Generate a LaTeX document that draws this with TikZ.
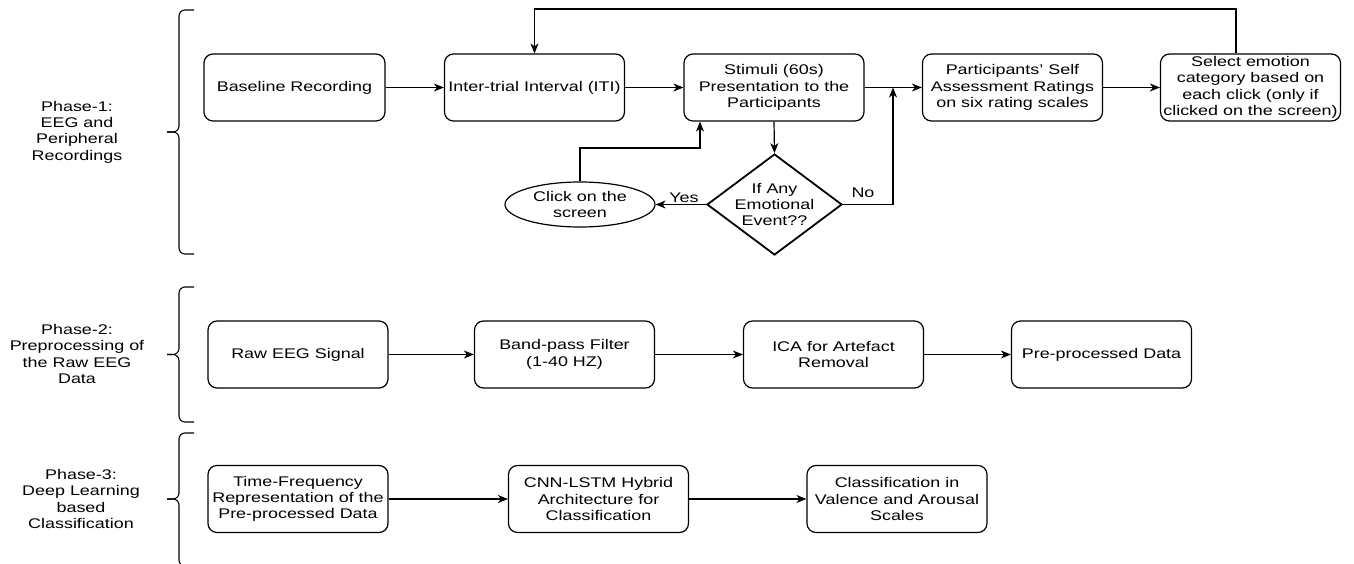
\documentclass[tikz,border=0pt]{standalone}
\usepackage{fontspec}
\setmainfont{Liberation Sans}[FakeStretch=1.28]
\usetikzlibrary{arrows.meta,shapes.geometric}
\begin{document}
\begin{tikzpicture}[x=1pt,y=-1pt,
  font=\fontsize{14}{16.3}\selectfont,
  box/.style={draw, line width=1.2pt, rounded corners=9pt, minimum width=180pt, minimum height=67pt, align=center, inner sep=0pt},
  conn/.style={line width=1.2pt, -{Stealth[length=10pt,width=8pt,inset=3pt]}},
  brc/.style={line width=1.1pt, rounded corners=6pt},
  lbl/.style={align=center, inner sep=0pt}]
\useasboundingbox (0,0) rectangle (1354,564);
\fill[white] (0,0) rectangle (1354,564);

% Phase labels
\node[lbl] (p1) at (77,132) {Phase-1:\\EEG and\\Peripheral\\Recordings};
\node[lbl] (p2) at (77,354) {Phase-2:\\Preprocessing of\\the Raw EEG\\Data};
\node[lbl] (p3) at (81,499) {Phase-3:\\Deep Learning\\based\\Classification};

% Braces
\draw[brc] (194,10) -- (179,10) -- (179,132) -- (167,132);
\draw[brc] (167,132) -- (179,132) -- (179,254) -- (194,254);
\draw[brc] (194,287) -- (179,287) -- (179,354.5) -- (167,354.5);
\draw[brc] (167,354.5) -- (179,354.5) -- (179,422) -- (194,422);
\draw[brc] (194,433) -- (179,433) -- (179,499) -- (167,499);
\draw[brc] (167,499) -- (179,499) -- (179,566) -- (194,566);

% Phase 1
\node[box, minimum width=181pt] (base) at (294.5,87.5) {Baseline Recording};
\node[box] (iti) at (534.5,87.5) {Inter-trial Interval (ITI)};
\node[box] (stim) at (774,87.5) {Stimuli (60s)\\Presentation to the\\Participants};
\node[box] (part) at (1012.5,87.5) {Participants' Self\\Assessment Ratings\\on six rating scales};
\node[box] (sel) at (1250.5,87.5) {Select emotion\\category based on\\each click (only if\\clicked on the screen)};
\node[diamond, draw, line width=1.8pt, minimum width=135pt, minimum height=101pt, inner sep=0pt] (dec) at (774.5,204.5) {};
\node[lbl] (dect) at (dec) {If Any\\Emotional\\Event??};
\node[ellipse, draw, line width=1.2pt, minimum width=150pt, minimum height=45pt, inner sep=0pt] (click) at (580,204.5) {};
\node[lbl] (clickt) at (click) {Click on the\\screen};

\draw[conn] (base.east) -- (iti.west);
\draw[conn] (iti.east) -- (stim.west);
\draw[conn] (stim.east) -- (part.west);
\draw[conn] (part.east) -- (sel.west);
\draw[conn] (stim.south) -- (dec.north);
\draw[conn] (dec.west) -- (click.east);
\coordinate (nojoin) at (893,87.5);
\draw[conn] (dec.east) -| (nojoin);
\coordinate (clk) at (700,148);
\draw[conn] (click.north) |- (clk) -- (clk |- stim.south);
\coordinate (loopR) at (1236,9);
\draw[conn] (sel.north -| loopR) -- (loopR) -- (loopR -| iti.north) -- (iti.north);
\node[anchor=base, inner sep=0pt] (yes) at (684,203) {Yes};
\node[anchor=base, inner sep=0pt] (no) at (863,197) {No};

% Phase 2
\node[box] (raw) at (298,354.5) {Raw EEG Signal};
\node[box] (bp) at (564.5,354.5) {Band-pass Filter\\(1-40 HZ)};
\node[box] (ica) at (833.5,354.5) {ICA for Artefact\\Removal};
\node[box] (pre) at (1101.5,354.5) {Pre-processed Data};
\draw[conn] (raw.east) -- (bp.west);
\draw[conn] (bp.east) -- (ica.west);
\draw[conn] (ica.east) -- (pre.west);

% Phase 3
\node[box] (tf) at (298,499) {Time-Frequency\\Representation of the\\Pre-processed Data};
\node[box] (cnn) at (598.5,499) {CNN-LSTM Hybrid\\Architecture for\\Classification};
\node[box] (cls) at (897,499) {Classification in\\Valence and Arousal\\Scales};
\draw[conn] (tf.east) -- (cnn.west);
\draw[conn] (cnn.east) -- (cls.west);
\end{tikzpicture}
\end{document}
